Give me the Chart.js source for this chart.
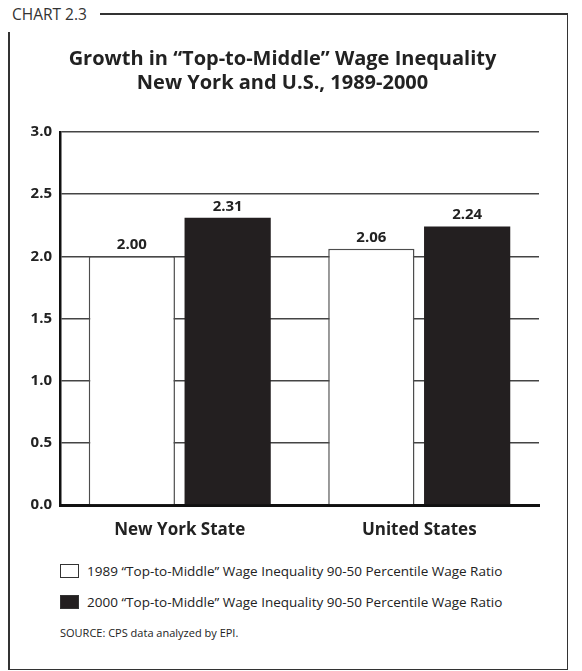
<!DOCTYPE html>
<html>
<head>
<meta charset="utf-8">
<script src="https://cdn.jsdelivr.net/npm/chart.js@4.4.1/dist/chart.umd.min.js"></script>
<style>
  html, body { margin: 0; padding: 0; background: #fff; }
  body { width: 582px; height: 671px; position: relative; overflow: hidden; font-family: 'Open Sans', sans-serif; color: #222; }
  .ln { position: absolute; background: #333; }
  #tag { position: absolute; left: 12px; top: 3px; font-size: 15.5px; color: #333; }
  #wrap { position: absolute; left: 0; top: 0; width: 582px; height: 560px; }
  .leg { position: absolute; left: 60px; font-size: 13.5px; white-space: nowrap; display: flex; align-items: center; }
  .leg i { display: inline-block; width: 19px; height: 14px; border: 1px solid #333; margin-right: 8px; box-sizing: border-box; }
  #src { position: absolute; left: 60px; top: 625px; font-size: 11px; }
</style>
</head>
<body>
<div id="tag">CHART 2.3</div>
<div class="ln" style="left:100px; top:13px; width:468px; height:1.5px"></div>
<div class="ln" style="left:8px; top:32px; width:1.5px; height:638px"></div>
<div class="ln" style="left:566.5px; top:13px; width:1.5px; height:657px"></div>
<div class="ln" style="left:8px; top:668.5px; width:560px; height:1.5px"></div>

<div id="wrap"><canvas id="chart"></canvas></div>

<div class="leg" style="top:562px"><i style="background:#fff"></i><span id="leg0"></span></div>
<div class="leg" style="top:593px"><i style="background:#231f20"></i><span id="leg1"></span></div>
<div id="src">SOURCE: CPS data analyzed by EPI.</div>

<script>
const categories = ['New York State', 'United States']
const seriesNames = [
  '1989 “Top-to-Middle” Wage Inequality 90-50 Percentile Wage Ratio',
  '2000 “Top-to-Middle” Wage Inequality 90-50 Percentile Wage Ratio'
]
const values1989 = [2.00, 2.06]
const values2000 = [2.31, 2.24]
const titleLines = ['Growth in “Top-to-Middle” Wage Inequality', 'New York and U.S., 1989-2000']

document.getElementById('leg0').textContent = seriesNames[0]
document.getElementById('leg1').textContent = seriesNames[1]

// value labels above each bar
const barLabels = {
  id: 'barLabels',
  afterDatasetsDraw(chart) {
    const ctx = chart.ctx
    ctx.save()
    ctx.font = 'bold 15px "Open Sans"'
    ctx.fillStyle = '#222'
    ctx.textAlign = 'center'
    ctx.textBaseline = 'alphabetic'
    chart.data.datasets.forEach((ds, i) => {
      chart.getDatasetMeta(i).data.forEach((bar, j) => {
        ctx.fillText(ds.data[j].toFixed(2), bar.x, bar.y - 7)
      })
    })
    ctx.restore()
  }
}

new Chart(document.getElementById('chart'), {
  type: 'bar',
  data: {
    labels: categories,
    datasets: [
      { label: seriesNames[0], data: values1989, backgroundColor: '#fff', borderColor: '#4d4d4d', borderWidth: 1.5 },
      { label: seriesNames[1], data: values2000, backgroundColor: '#231f20', borderColor: '#231f20', borderWidth: 0 }
    ]
  },
  options: {
    responsive: true,
    maintainAspectRatio: false,
    animation: false,
    layout: { padding: { left: 26, right: 43, top: 0, bottom: 0 } },
    plugins: {
      legend: { display: false },
      tooltip: { enabled: false },
      title: {
        display: true,
        text: titleLines,
        color: '#222',
        font: { family: 'Open Sans', size: 20, weight: 'bold', lineHeight: 1.2 },
        padding: { top: 47, bottom: 37 }
      }
    },
    scales: {
      x: {
        z: 1,
        grid: { display: false, drawTicks: false },
        border: { display: true, color: '#111', width: 3 },
        ticks: { color: '#222', padding: 15, font: { family: 'Open Sans', size: 17, weight: 'bold' } },
        afterFit(scale) { scale.height = 55 }
      },
      y: {
        min: 0,
        max: 3,
        ticks: {
          stepSize: 0.5,
          padding: 8,
          color: '#222',
          font: { family: 'Open Sans', size: 15, weight: 'bold' },
          callback: v => v.toFixed(1)
        },
        grid: { color: '#444', lineWidth: 1.5, drawTicks: false },
        border: { display: true, color: '#111', width: 2.5 },
        afterFit(scale) { scale.width = 34 }
      }
    }
  },
  plugins: [barLabels]
})
</script>
</body>
</html>
